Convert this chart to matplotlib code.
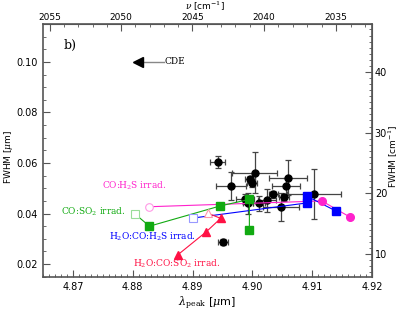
import numpy as np
import matplotlib
matplotlib.use('Agg')
import matplotlib.pyplot as plt
from matplotlib.ticker import MultipleLocator, FixedLocator

# observed sources: peak position and FWHM (um) with errors
obs_lam = [4.8942, 4.8964, 4.9004, 4.8996, 4.8999, 4.9060, 4.9056, 4.9103,
           4.9035, 4.9025, 4.9011, 4.8993, 4.8988, 4.9048, 4.9053, 4.8951]
obs_fwhm = [0.0604, 0.0509, 0.0562, 0.0535, 0.0522, 0.0542, 0.0509, 0.0477,
            0.0476, 0.0453, 0.0440, 0.0440, 0.0457, 0.0425, 0.0464, 0.0289]
obs_lam_err = [0.0012, 0.0025, 0.0038, 0.0008, 0.0008, 0.0032, 0.0024, 0.0045,
               0.0008, 0.0015, 0.0010, 0.0008, 0.0015, 0.0030, 0.0008, 0.0008]
obs_fwhm_err = [0.0025, 0.0054, 0.0080, 0.0015, 0.0015, 0.0068, 0.0033, 0.0099,
                0.0015, 0.0046, 0.0030, 0.0043, 0.0020, 0.0056, 0.0015, 0.0012]

# lab spectra: first point is the unirradiated (open) one
coh2s_lam = [4.8828, 4.9116, 4.9164]
coh2s_fwhm = [0.0427, 0.0450, 0.0385]
h2ocoh2s_lam = [4.8900, 4.9091, 4.9091, 4.9139]
h2ocoh2s_fwhm = [0.0382, 0.0442, 0.0469, 0.0411]
coso2_lam = [4.8804, 4.8828, 4.8946, 4.8995, 4.8995]
coso2_fwhm = [0.0398, 0.0350, 0.0430, 0.0456, 0.0335]
h2ocoso2_lam = [4.8926, 4.8947, 4.8923, 4.8875]
h2ocoso2_fwhm = [0.0401, 0.0381, 0.0328, 0.0236]

LAM0 = 4.9  # for the cm^-1 FWHM scale

plt.rcParams['font.family'] = ['DejaVu Sans']
plt.rcParams['font.size'] = 7
plt.rcParams['mathtext.fontset'] = 'dejavuserif'
axcol = '#555555'

fig = plt.figure(figsize=(4.01, 3.13), dpi=100)
ax = fig.add_axes([43/401, 1-277/313, (372-43)/401, (277-24)/313])

ax.errorbar(obs_lam, obs_fwhm, xerr=obs_lam_err, yerr=obs_fwhm_err, fmt='o',
            color='black', ms=5, ecolor='#444444', elinewidth=0.9, capsize=2,
            capthick=0.9, zorder=3)

series = [
    (coh2s_lam, coh2s_fwhm, '#ff22cc', '#ff99e6', 'o', 5.5),
    (h2ocoh2s_lam, h2ocoh2s_fwhm, '#0000ff', '#9999ff', 's', 5.5),
    (coso2_lam, coso2_fwhm, '#11aa11', '#99dd99', 's', 5.5),
    (h2ocoso2_lam, h2ocoso2_fwhm, '#ff1144', '#ff99aa', '^', 5.5),
]
for lam, fw, col, light, mk, ms in series:
    ax.plot(lam, fw, '-', color=col, lw=0.8, zorder=4)
    ax.plot(lam[:1], fw[:1], mk, mfc='white', mec=light, ms=ms, mew=0.8, zorder=5)
    ax.plot(lam[1:], fw[1:], mk, color=col, ms=ms, ls='none', zorder=5)

lfont = dict(family='DejaVu Serif', fontsize=6.5)
ax.text(4.8749, 0.0509, 'CO:H$_2$S irrad.', color='#ff22cc', va='center', **lfont)
ax.text(4.8680, 0.0406, 'CO:SO$_2$ irrad.', color='#11aa11', va='center', **lfont)
ax.text(4.8760, 0.0307, 'H$_2$O:CO:H$_2$S irrad.', color='#0000ff', va='center', **lfont)
ax.text(4.8800, 0.0200, 'H$_2$O:CO:SO$_2$ irrad.', color='#ff1144', va='center', **lfont)

ax.text(4.8685, 0.1067, 'b)', fontsize=9, family='DejaVu Serif', va='center')
ax.plot([4.8808, 4.8852], [0.10, 0.10], color='#888888', lw=1)
ax.plot([4.8808], [0.10], marker='<', color='black', ms=7)
ax.text(4.8853, 0.10, 'CDE', fontsize=6.5, family='DejaVu Serif', va='center')

ax.set_xlim(4.865, 4.92)
ax.set_ylim(0.0149, 0.115)
ax.xaxis.set_major_locator(FixedLocator([4.87, 4.88, 4.89, 4.90, 4.91, 4.92]))
ax.xaxis.set_major_formatter(plt.FuncFormatter(lambda v, p: f'{v:.2f}'))
ax.xaxis.set_minor_locator(MultipleLocator(0.001))
ax.yaxis.set_major_locator(FixedLocator([0.02, 0.04, 0.06, 0.08, 0.10]))
ax.yaxis.set_major_formatter(plt.FuncFormatter(lambda v, p: f'{v:.2f}'))
ax.yaxis.set_minor_locator(MultipleLocator(0.005))
ax.tick_params(which='both', direction='in', color=axcol)
ax.tick_params(which='major', length=5, width=0.8)
ax.tick_params(which='minor', length=2.5, width=0.6)
for s in ax.spines.values():
    s.set_color(axcol)
    s.set_linewidth(1.2)

ax.set_xlabel(r'$\lambda_{\rm peak}$ [$\mu$m]', fontsize=8, labelpad=2)
fig.text(9/401, 0.5, r'FWHM [$\mu$m]', rotation=90, fontsize=6.5,
         ha='center', va='center')

top = ax.secondary_xaxis('top', functions=(lambda x: 1e4/np.asarray(x),
                                           lambda v: 1e4/np.asarray(v)))
top.xaxis.set_major_locator(FixedLocator([2055, 2050, 2045, 2040, 2035]))
top.xaxis.set_minor_locator(MultipleLocator(1))
top.tick_params(which='both', direction='in', color=axcol)
top.tick_params(which='major', length=5, width=0.8, pad=1.5, labelsize=6.5)
top.tick_params(which='minor', length=2.5, width=0.6)
top.spines['top'].set_color(axcol)
fig.text(205/401, 1-6/313, r'$\nu$ [cm$^{-1}$]', fontsize=6.5,
         ha='center', va='center')

right = ax.secondary_yaxis('right', functions=(lambda y: np.asarray(y)*1e4/LAM0**2,
                                               lambda c: np.asarray(c)*LAM0**2/1e4))
right.yaxis.set_major_locator(FixedLocator([10, 20, 30, 40]))
right.yaxis.set_minor_locator(MultipleLocator(1))
right.tick_params(which='both', direction='in', color=axcol)
right.tick_params(which='major', length=5, width=0.8, pad=2)
right.tick_params(which='minor', length=2.5, width=0.6)
right.spines['right'].set_color(axcol)
fig.text(393/401, 0.5, r'FWHM [cm$^{-1}$]', rotation=90, fontsize=6.5,
         ha='center', va='center')

fig.savefig('out.png', dpi=100)
